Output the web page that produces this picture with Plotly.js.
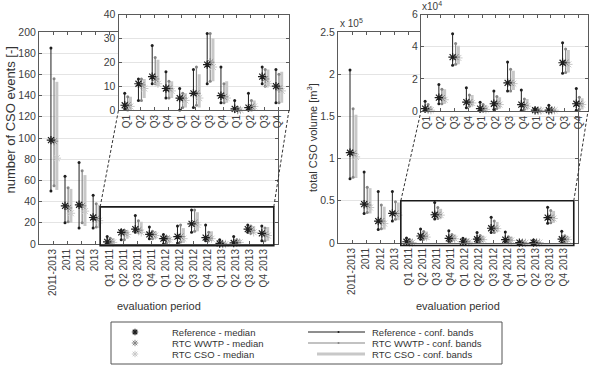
<!DOCTYPE html>
<html><head><meta charset="utf-8">
<script src="https://cdn.plot.ly/plotly-3.0.1.min.js"></script>
<style>html,body{margin:0;padding:0;background:#fff}#chart{width:594px;height:370px}</style>
</head><body><div id="chart"></div>
<script>
// ---------- DATA ----------
const categories = ["2011-2013","2011","2012","2013",
  "Q1 2011","Q2 2011","Q3 2011","Q4 2011",
  "Q1 2012","Q2 2012","Q3 2012","Q4 2012",
  "Q1 2013","Q2 2013","Q3 2013","Q4 2013"];
const quarterLabels = ["Q1","Q2","Q3","Q4","Q1","Q2","Q3","Q4","Q1","Q2","Q3","Q4"];
const yTicksEvents = [0,20,40,60,80,100,120,140,160,180,200];
const yTicksEventsInset = [0,10,20,30,40];
const yTicksVolume = [0,50000,100000,150000,200000,250000];
const yTickTextVolume = ["0","0.5","1","1.5","2","2.5"];
const yTicksVolumeInset = [0,20000,40000,60000];
const yTickTextVolumeInset = ["0","2","4","6"];

// number of CSO events [-]
const refEvMed  = [98, 36, 37, 25, 2, 11, 14, 9, 5, 7, 19, 6, 0.5, 1, 14, 10];
const refEvLo   = [50, 20, 15, 15, 0.5, 4, 11, 5, 0, 1, 11, 3, 0, 0, 11, 3];
const refEvHi   = [185, 64, 77, 46, 7, 13, 27, 16, 9, 17, 32, 18, 4, 7, 18, 17];
const wwtpEvMed = [97, 34, 36, 24, 2, 10.5, 13, 9, 5, 7, 20, 5.5, 0, 1.5, 13, 9];
const wwtpEvLo  = [55, 21, 20, 16, 0, 4, 11, 5, 1, 2, 12, 3, 0, 0, 10, 3];
const wwtpEvHi  = [156, 53, 69, 38, 5.5, 13, 22, 12, 7, 18, 32, 11, 1, 4, 17, 15];
const csoEvMed  = [81, 29, 31, 22, 1.5, 9, 11, 8, 4, 5, 18, 5, 0, 1.5, 11, 8];
const csoEvLo   = [51, 20, 17, 15, 0, 5, 10, 5, 1, 1, 12, 3, 0, 0, 10, 3];
const csoEvHi   = [153, 52, 65, 37, 5.5, 13, 21, 12, 7, 15, 30, 12, 1, 4, 17, 16];

// total CSO volume [m3]
const refVolMed  = [107000, 46000, 26000, 35000, 1500, 8300, 33500, 5500, 1500, 4500, 17500, 4000, 500, 500, 30000, 4500];
const refVolLo   = [76000, 35000, 16000, 26000, 0, 4500, 28500, 2000, 0, 1000, 12500, 500, 0, 0, 23500, 500];
const refVolHi   = [205000, 84000, 61000, 61000, 6000, 16500, 48000, 14500, 5500, 12500, 30500, 13000, 1500, 3500, 42500, 14000];
const wwtpVolMed = [106000, 45000, 26000, 35000, 1000, 8000, 33500, 5500, 1500, 4500, 17500, 3500, 300, 500, 30000, 4500];
const wwtpVolLo  = [78000, 36000, 17000, 28000, 0, 4500, 29000, 3000, 0, 1500, 12500, 1000, 0, 0, 24000, 1000];
const wwtpVolHi  = [159000, 66000, 45000, 49000, 4000, 13500, 42000, 10000, 4000, 9000, 26000, 7500, 1000, 1500, 38500, 8500];
const csoVolMed  = [102000, 42000, 23000, 33000, 500, 7000, 33000, 5000, 1000, 4000, 17000, 3000, 300, 500, 29000, 4000];
const csoVolLo   = [77000, 35000, 16000, 27000, 0, 4500, 29000, 3000, 0, 1500, 13000, 1000, 0, 0, 24000, 1000];
const csoVolHi   = [152000, 65000, 43000, 48000, 3000, 13500, 40500, 10000, 3500, 8500, 25000, 7500, 1000, 1500, 38000, 8000];

const legendMedianLabels = ["Reference - median","RTC WWTP - median","RTC CSO - median"];
const legendBandLabels = ["Reference - conf. bands","RTC WWTP - conf. bands","RTC CSO - conf. bands"];

// ---------- LAYOUT GEOMETRY ----------
const W = 594, H = 370;
const FONT = "Liberation Sans, Arial, Helvetica, sans-serif";
const px = p => p / W, py = p => 1 - p / H;
const LM = {x0:39, x1:278, y0:32, y1:244, xr:[-1,16], yr:[0,200]};
const LI = {x0:118.5, x1:289, y0:14.5, y1:110, xr:[-0.6,11.8], yr:[0,40]};
const RM = {x0:338, x1:578, y0:32, y1:243, xr:[-1,16], yr:[0,250000]};
const RI = {x0:421, x1:588, y0:14.5, y1:111, xr:[-0.45,11.7], yr:[0,60000]};
const dX = (b,v) => b.x0 + (v-b.xr[0])/(b.xr[1]-b.xr[0])*(b.x1-b.x0);
const dY = (b,v) => b.y1 - (v-b.yr[0])/(b.yr[1]-b.yr[0])*(b.y1-b.y0);

const styles = {
  ref:  {color:'#1e1e1e', lw:1,   mlw:1.2, size:7, dot:true,  off:-0.15},
  wwtp: {color:'#858585', lw:1.2, mlw:1,   size:7, dot:true,  off:0.07},
  cso:  {color:'#c8c8c8', lw:3,   mlw:1,   size:7, dot:false, off:0.27}
};

function bandTrace(xa, ya, idx, lo, hi, st) {
  const x = [], y = [];
  idx.forEach((i,k) => { x.push(i+st.off, i+st.off, null); y.push(lo[k], hi[k], null); });
  return {type:'scatter', mode: st.dot ? 'lines+markers' : 'lines', x, y, xaxis:xa, yaxis:ya,
    line:{color:st.color, width:st.lw}, marker:{size:3, color:st.color},
    cliponaxis:false, showlegend:false, hoverinfo:'skip'};
}
function medTrace(xa, ya, idx, med, st) {
  return {type:'scatter', mode:'markers', x: idx.map(i=>i+st.off), y: med, xaxis:xa, yaxis:ya,
    marker:{symbol:'asterisk-open', size:st.size, color:st.color, line:{color:st.color, width:st.mlw}},
    cliponaxis:false, showlegend:false, hoverinfo:'skip'};
}
function panel(xa, ya, idx, sl, series) {
  const out = [];
  ['cso','wwtp','ref'].forEach(k => out.push(bandTrace(xa, ya, idx, series[k].lo.slice(sl), series[k].hi.slice(sl), styles[k])));
  ['cso','wwtp','ref'].forEach(k => out.push(medTrace(xa, ya, idx, series[k].med.slice(sl), styles[k])));
  return out;
}
const ev = {ref:{med:refEvMed, lo:refEvLo, hi:refEvHi}, wwtp:{med:wwtpEvMed, lo:wwtpEvLo, hi:wwtpEvHi}, cso:{med:csoEvMed, lo:csoEvLo, hi:csoEvHi}};
const vol = {ref:{med:refVolMed, lo:refVolLo, hi:refVolHi}, wwtp:{med:wwtpVolMed, lo:wwtpVolLo, hi:wwtpVolHi}, cso:{med:csoVolMed, lo:csoVolLo, hi:csoVolHi}};
const idxAll = categories.map((c,i)=>i);
const idxQ = quarterLabels.map((c,i)=>i);

const traces = [].concat(
  panel('x','y', idxAll, 0, ev),
  panel('x2','y2', idxQ, 4, ev),
  panel('x3','y3', idxAll, 0, vol),
  panel('x4','y4', idxQ, 4, vol)
);

function axBase(b, isX) {
  return {domain: isX ? [px(b.x0), px(b.x1)] : [py(b.y1), py(b.y0)], range: isX ? b.xr : b.yr,
    showline:true, linecolor:'#5a5a5a', linewidth:1, mirror:'ticks', ticks:'inside', ticklen:3,
    tickcolor:'#5a5a5a', zeroline:false, fixedrange:true, tickmode:'array',
    tickfont:{family:FONT, size: isX ? 10 : 10.5, color:'#404040'}};
}
function xAx(b, anchor, vals, text) { return Object.assign(axBase(b,true), {anchor, tickvals:vals, ticktext:text, tickangle:-90, showgrid:false}); }
function yAx(b, anchor, vals, text) { return Object.assign(axBase(b,false), {anchor, tickvals:vals, ticktext:text, showgrid:true, gridcolor:'#e4e4e4', gridwidth:1}); }

const shapes = [];
// white masks behind insets
shapes.push({type:'rect', xref:'x2 domain', yref:'y2 domain', layer:'below',
  x0:(97-LI.x0)/(LI.x1-LI.x0), x1:(291-LI.x0)/(LI.x1-LI.x0), y0:(LI.y1-135)/(LI.y1-LI.y0), y1:(LI.y1-0)/(LI.y1-LI.y0),
  fillcolor:'#ffffff', line:{width:0}});
shapes.push({type:'rect', xref:'x4 domain', yref:'y4 domain', layer:'below',
  x0:(397-RI.x0)/(RI.x1-RI.x0), x1:(592-RI.x0)/(RI.x1-RI.x0), y0:(RI.y1-135)/(RI.y1-RI.y0), y1:(RI.y1-0)/(RI.y1-RI.y0),
  fillcolor:'#ffffff', line:{width:0}});
// zoom rectangles + connector lines
function zoomBox(M, I, xa, xb, ya, yb) {
  const X0 = dX(M,xa), X1 = dX(M,xb), Y0 = dY(M,ya), Y1 = dY(M,yb);
  shapes.push({type:'rect', xref:'paper', yref:'paper', x0:px(X0), x1:px(X1), y0:py(Y0), y1:py(Y1), line:{color:'#1a1a1a', width:1.6}});
  shapes.push({type:'line', xref:'paper', yref:'paper', x0:px(X0), y0:py(Y1), x1:px(I.x0), y1:py(I.y1), line:{color:'#333', width:1, dash:'3px,2px'}});
  shapes.push({type:'line', xref:'paper', yref:'paper', x0:px(X1), y0:py(Y1), x1:px(I.x1), y1:py(I.y1), line:{color:'#333', width:1, dash:'3px,2px'}});
}
zoomBox(LM, LI, 3.35, 15.7, -1.5, 35);
zoomBox(RM, RI, 3.45, 15.7, -3000, 50000);

// legend (manual)
shapes.push({type:'rect', xref:'paper', yref:'paper', x0:px(111), x1:px(502), y0:py(364), y1:py(322), line:{color:'#555', width:1}});
const rows = [332, 343, 354];
const legKeys = [styles.ref, styles.wwtp, styles.cso];
function asterPath(cx, cy, r) {
  const d = r*0.7071, P = (x,y) => px(x)+','+py(y);
  return 'M'+P(cx,cy-r)+'L'+P(cx,cy+r)+'M'+P(cx-r,cy)+'L'+P(cx+r,cy)+'M'+P(cx-d,cy-d)+'L'+P(cx+d,cy+d)+'M'+P(cx-d,cy+d)+'L'+P(cx+d,cy-d);
}
const annotations = [];
rows.forEach((ry,k) => {
  const st = legKeys[k];
  shapes.push({type:'path', xref:'paper', yref:'paper', path: asterPath(135, ry, 3.2), line:{color:st.color, width:st.mlw}});
  const lx0 = st.dot ? 308 : 317;
  shapes.push({type:'line', xref:'paper', yref:'paper', x0:px(lx0), x1:px(365), y0:py(ry), y1:py(ry), line:{color:st.color, width:st.lw}});
  if (st.dot) shapes.push({type:'circle', xref:'paper', yref:'paper', x0:px(337.5), x1:px(339.5), y0:py(ry+1), y1:py(ry-1), fillcolor:st.color, line:{width:0}});
  annotations.push({xref:'paper', yref:'paper', x:px(170), y:py(ry), xanchor:'left', yanchor:'middle', showarrow:false, text:legendMedianLabels[k], font:{family:FONT, size:9.5, color:'#333'}});
  annotations.push({xref:'paper', yref:'paper', x:px(370), y:py(ry), xanchor:'left', yanchor:'middle', showarrow:false, text:legendBandLabels[k], font:{family:FONT, size:9.5, color:'#333'}});
});

annotations.push({xref:'paper', yref:'paper', x:px(9.5), y:py(120), textangle:-90, showarrow:false, xanchor:'center', yanchor:'middle', text:'number of CSO events [-]', font:{family:FONT, size:13, color:'#333'}});
annotations.push({xref:'paper', yref:'paper', x:px(312), y:py(138), textangle:-90, showarrow:false, xanchor:'center', yanchor:'middle', text:'total CSO volume [m<sup>3</sup>]', font:{family:FONT, size:11, color:'#333'}});
annotations.push({xref:'paper', yref:'paper', x:px((LM.x0+LM.x1)/2), y:py(306), showarrow:false, xanchor:'center', yanchor:'middle', text:'evaluation period', font:{family:FONT, size:11, color:'#333'}});
annotations.push({xref:'paper', yref:'paper', x:px((RM.x0+RM.x1)/2), y:py(306), showarrow:false, xanchor:'center', yanchor:'middle', text:'evaluation period', font:{family:FONT, size:11, color:'#333'}});
annotations.push({xref:'paper', yref:'paper', x:px(338), y:py(31), showarrow:false, xanchor:'left', yanchor:'bottom', text:'x 10<sup>5</sup>', font:{family:FONT, size:10, color:'#404040'}});
annotations.push({xref:'paper', yref:'paper', x:px(420), y:py(14), showarrow:false, xanchor:'left', yanchor:'bottom', text:'x10<sup>4</sup>', font:{family:FONT, size:10, color:'#404040'}});

const layout = {
  width:W, height:H, margin:{l:0,r:0,t:0,b:0}, paper_bgcolor:'#fff', plot_bgcolor:'#fff',
  showlegend:false, font:{family:FONT, color:'#404040'},
  xaxis: xAx(LM,'y', idxAll, categories), yaxis: yAx(LM,'x', yTicksEvents, yTicksEvents.map(String)),
  xaxis2: xAx(LI,'y2', idxQ, quarterLabels), yaxis2: yAx(LI,'x2', yTicksEventsInset, yTicksEventsInset.map(String)),
  xaxis3: xAx(RM,'y3', idxAll, categories), yaxis3: yAx(RM,'x3', yTicksVolume, yTickTextVolume),
  xaxis4: xAx(RI,'y4', idxQ, quarterLabels), yaxis4: yAx(RI,'x4', yTicksVolumeInset, yTickTextVolumeInset),
  shapes, annotations
};
Plotly.newPlot('chart', traces, layout, {displayModeBar:false, staticPlot:true});
</script></body></html>
